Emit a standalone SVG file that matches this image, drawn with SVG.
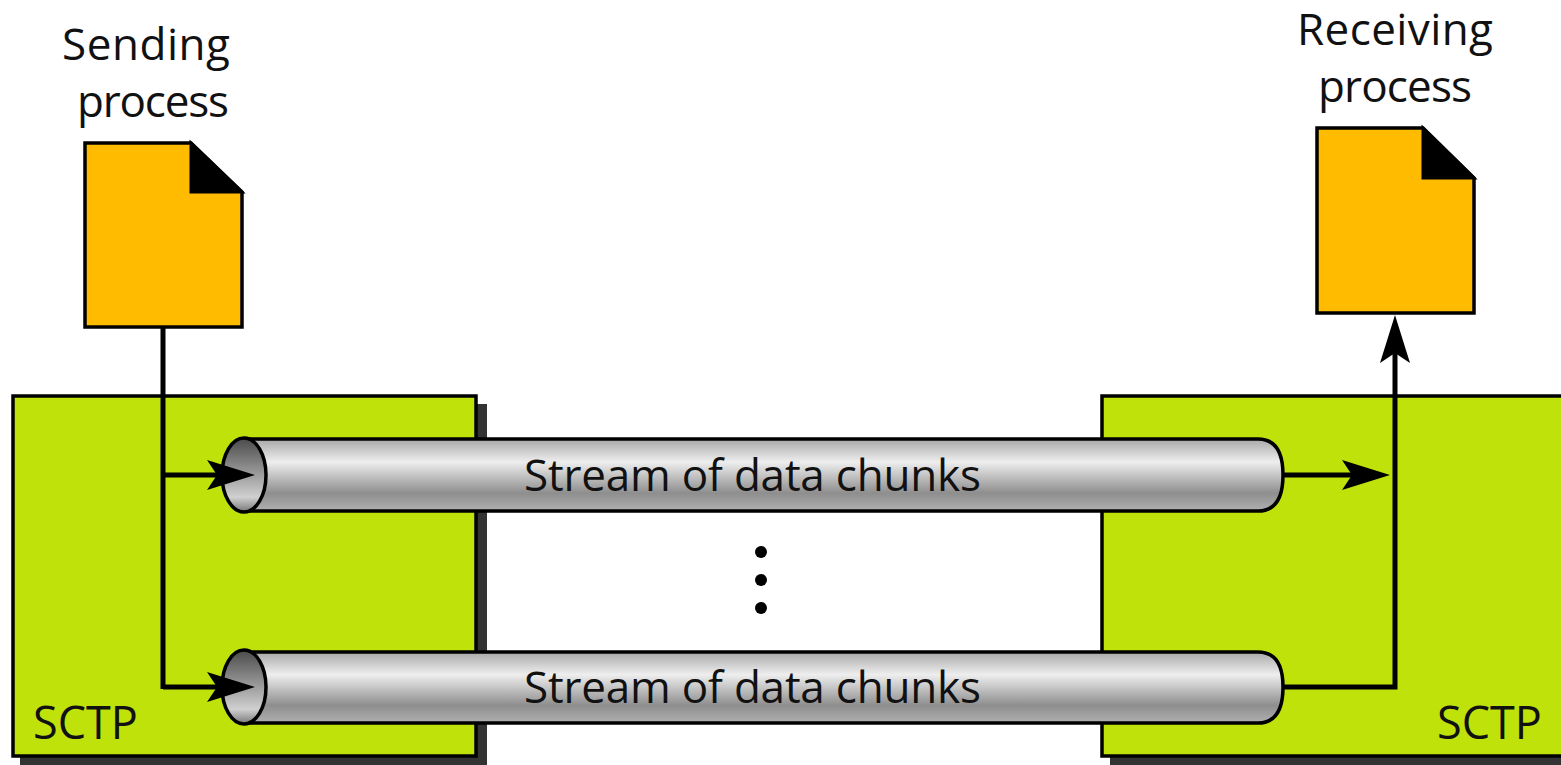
<svg xmlns="http://www.w3.org/2000/svg" width="1561" height="765" viewBox="0 0 1561 765">
<style>
text{font-family:"Open Sans","Noto Sans","Liberation Sans",sans-serif;font-size:44px;fill:#111}
.box{fill:#bfe30a;stroke:#000;stroke-width:3.5}
.sh{fill:#333}
.doc{fill:#ffbb00;stroke:#000;stroke-width:3.5}
.tube{fill:url(#g);stroke:#000;stroke-width:3.5}
.mouth{fill:url(#m);stroke:#000;stroke-width:3.5}
.c{fill:none;stroke:#000;stroke-width:5}
</style>
<defs>
<linearGradient id="g" x1="0" y1="0" x2="0" y2="1">
<stop offset="0" stop-color="#a8a8a8"/><stop offset=".32" stop-color="#eeeeee"/><stop offset=".75" stop-color="#8e8e8e"/><stop offset="1" stop-color="#b0b0b0"/>
</linearGradient>
<linearGradient id="m" x1="0" y1="0" x2="0" y2="1">
<stop offset="0" stop-color="#4a4a4a"/><stop offset=".8" stop-color="#d0d0d0"/><stop offset="1" stop-color="#777"/>
</linearGradient>
<marker id="a" markerUnits="userSpaceOnUse" markerWidth="50" markerHeight="32" refX="20" refY="15" orient="auto"><path d="M0 0L48 15L0 30L10 15Z" fill="#000"/></marker>
</defs>
<g id="sctp-left">
<path class="sh" d="M477 404H487V765H20V757H477Z"/>
<rect class="box" x="13" y="396" width="463" height="360"/>
<text x="33" y="739" style="font-size:45px">SCTP</text>
</g>
<g id="sctp-right">
<path class="sh" d="M1102 757H1561V765H1110V757Z"/>
<rect class="box" x="1102" y="396" width="470" height="360"/>
<text x="1437" y="739" style="font-size:45px">SCTP</text>
</g>
<g id="sending-process">
<text x="62" y="60" textLength="168">Sending</text>
<text x="77" y="117" textLength="152">process</text>
<path class="doc" d="M85 143H191L242 192V327H85Z"/>
<path d="M191 143L242 192H191Z" fill="#000" stroke="#000" stroke-width="3"/>
</g>
<g id="receiving-process">
<text x="1297" y="45" textLength="196">Receiving</text>
<text x="1318" y="102" textLength="154">process</text>
<path class="doc" d="M1317 128H1423L1474 178V313H1317Z"/>
<path d="M1423 128L1474 178H1423Z" fill="#000" stroke="#000" stroke-width="3"/>
</g>
<g id="stream-1">
<path class="tube" d="M245 439H1258Q1283 439 1283 475Q1283 511 1258 511H245Z"/>
<ellipse class="mouth" cx="244" cy="475" rx="22" ry="37"/>
<text x="524" y="491" textLength="457">Stream of data chunks</text>
</g>
<g id="stream-2">
<path class="tube" d="M245 652H1258Q1283 652 1283 687Q1283 723 1258 723H245Z"/>
<ellipse class="mouth" cx="244" cy="687" rx="22" ry="37"/>
<text x="524" y="703" textLength="457">Stream of data chunks</text>
</g>
<g id="dots" fill="#000">
<circle cx="761" cy="552" r="6"/><circle cx="761" cy="580" r="6"/><circle cx="761" cy="608" r="6"/>
</g>
<g id="connectors">
<path class="c" d="M163 327V689"/>
<path class="c" d="M163 475H227" marker-end="url(#a)"/>
<path class="c" d="M163 687H227" marker-end="url(#a)"/>
<path class="c" d="M1283 475H1362" marker-end="url(#a)"/>
<path class="c" d="M1283 687H1395V343" marker-end="url(#a)"/>
</g>
</svg>
